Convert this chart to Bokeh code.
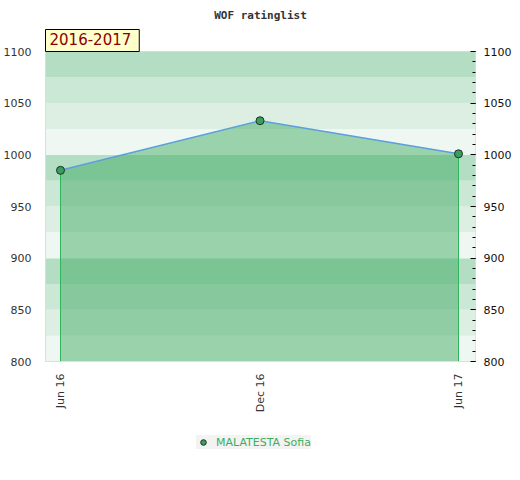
import numpy as np
import pandas as pd
from bokeh.plotting import figure
from bokeh.layouts import column
from bokeh.models import (LinearAxis, Range1d, FixedTicker, SingleIntervalTicker,
                          DatetimeTickFormatter, Title, Legend, LegendItem, ColumnDataSource)
from bokeh.embed import file_html
from bokeh.resources import INLINE

# ---- data ----
dates = ["2016-06-01", "2016-12-01", "2017-06-01"]
ratings = [985, 1033, 1001]
player = "MALATESTA Sofia"
season = "2016-2017"
title = "WOF ratinglist"

band_bottoms = list(range(800, 1100, 25))
band_palette = ["#eff7f2", "#ddefe3", "#cbe7d6", "#b3dec4"]

y_min, y_max = 800, 1100

dt = pd.to_datetime(dates)
xms = [d.value / 1e6 for d in dt]
span = xms[-1] - xms[0]
x_start = xms[0] - span * 15.0 / 398.0
x_end = xms[-1] + span * 17.0 / 398.0

p = figure(frame_width=430, frame_height=310, output_backend="svg", toolbar_location=None,
           x_axis_type="datetime", x_range=Range1d(x_start, x_end),
           y_range=Range1d(y_min, y_max), title=None,
           min_border_left=37, min_border_right=37, min_border_top=0, min_border_bottom=60)

season_title = Title(text=season, align="left", text_font="DejaVu Sans",
                     text_font_size="15px", text_font_style="normal", text_color="#8b0000",
                     background_fill_color="#ffffcc", border_line_color="black",
                     border_line_width=1, padding=(4, 8, 3, 7), standoff=0)
p.add_layout(season_title, "above")
main_title = Title(text=title, align="center", text_font="DejaVu Sans Mono",
                   text_font_size="11px", text_font_style="bold", text_color="#333333",
                   standoff=12)
p.add_layout(main_title, "above")

p.outline_line_color = "#dddddd"
p.xgrid.visible = False
p.ygrid.visible = False
p.background_fill_color = "white"

# bands
band_colors = [band_palette[i % 4] for i in range(len(band_bottoms))]
p.quad(left=x_start, right=x_end, bottom=band_bottoms,
       top=[b + 25 for b in band_bottoms], fill_color=band_colors, line_color=None)

# area
src = ColumnDataSource(dict(x=xms, y=ratings))
p.varea(x="x", y1=y_min, y2="y", source=src, fill_color="#3ba85e", fill_alpha=0.47)
p.segment(x0=[xms[0], xms[-1]], y0=[y_min, y_min], x1=[xms[0], xms[-1]],
          y1=[ratings[0], ratings[-1]], line_color="#30b45c", line_width=1)
p.line(x="x", y="y", source=src, line_color="#5b9fdc", line_width=1.6)
marker_style = dict(size=8, fill_color="#3a9e5c", line_color="#1c3326", line_width=1)
p.scatter(x="x", y="y", source=src, **marker_style)

# axes
p.xaxis.ticker = FixedTicker(ticks=xms)
p.xaxis.formatter = DatetimeTickFormatter(months="%b %y", days="%b %y")
p.xaxis.major_label_orientation = np.pi / 2
p.xaxis.major_tick_line_color = None
p.xaxis.minor_tick_line_color = None
p.xaxis.axis_line_color = "#dddddd"
p.xaxis.major_label_text_font = "DejaVu Sans"
p.xaxis.major_label_text_font_size = "11px"
p.xaxis.major_label_text_color = "#333333"
p.xaxis.major_label_standoff = 6

p.yaxis.ticker = SingleIntervalTicker(interval=50, num_minor_ticks=5)
p.yaxis.major_tick_line_color = None
p.yaxis.minor_tick_line_color = None
p.yaxis.axis_line_color = "#dddddd"
p.yaxis.major_label_text_font = "DejaVu Sans"
p.yaxis.major_label_text_font_size = "11px"
p.yaxis.major_label_text_color = "#333333"
p.yaxis.major_label_standoff = 8

ra = LinearAxis(ticker=SingleIntervalTicker(interval=50, num_minor_ticks=5))
ra.axis_line_color = None
ra.major_tick_in = 5
ra.major_tick_out = 0
ra.minor_tick_in = 3
ra.minor_tick_out = 0
ra.major_tick_line_color = "black"
ra.minor_tick_line_color = "black"
ra.major_label_text_font = "DejaVu Sans"
ra.major_label_text_font_size = "11px"
ra.major_label_text_color = "#111111"
ra.major_label_standoff = 8
p.add_layout(ra, "right")

# legend in a small companion figure (its marker sits outside the visible range)
p2 = figure(width=504, height=40, output_backend="svg", toolbar_location=None,
            x_range=Range1d(0, 1), y_range=Range1d(0, 1),
            min_border=0, outline_line_color=None)
p2.axis.visible = False
p2.grid.visible = False
r2 = p2.scatter(x=[5], y=[5], **marker_style)
legend = Legend(items=[LegendItem(label=player, renderers=[r2])],
                orientation="horizontal", location=(151, 12),
                background_fill_color="#f2f2f2", border_line_color=None,
                label_text_font="DejaVu Sans", label_text_font_size="11px",
                label_text_color="#3cae5e", glyph_width=14, glyph_height=14,
                padding=3, margin=0, label_standoff=6)
p2.add_layout(legend, "center")

open("out.html", "w").write(file_html(column(p, p2, spacing=0), INLINE))
